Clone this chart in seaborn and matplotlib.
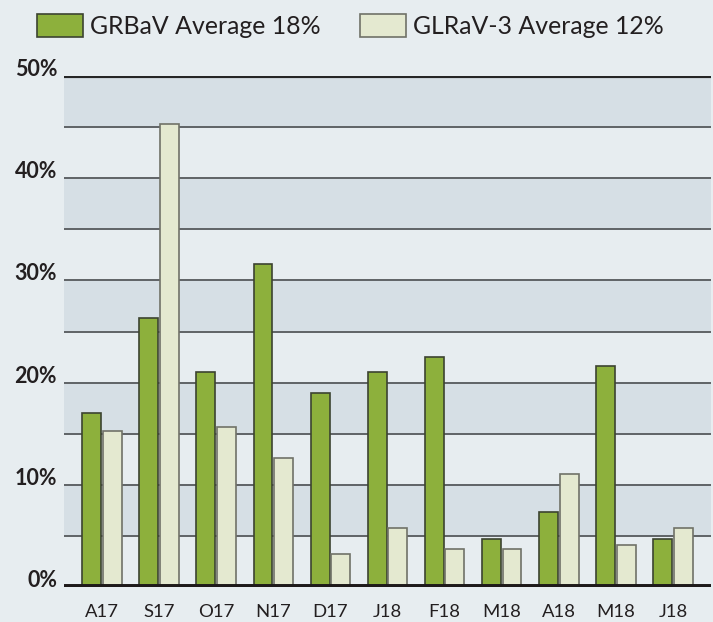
import matplotlib
matplotlib.use("Agg")
import matplotlib.pyplot as plt
from matplotlib.patches import Patch
import seaborn as sns
import pandas as pd

months = ["A17", "S17", "O17", "N17", "D17", "J18", "F18", "M18", "A18", "M18", "J18"]
grbav = [17.0, 26.3, 21.0, 31.6, 19.0, 21.0, 22.5, 4.7, 7.3, 21.6, 4.7]
glrav3 = [15.3, 45.3, 15.7, 12.6, 3.2, 5.8, 3.7, 3.7, 11.1, 4.1, 5.8]
series_names = ["GRBaV Average 18%", "GLRaV-3 Average 12%"]
y_ticks = [0, 10, 20, 30, 40, 50]

pos = list(range(len(months)))
df = pd.DataFrame({
    "pos": pos * 2,
    "value": grbav + glrav3,
    "series": [series_names[0]] * len(months) + [series_names[1]] * len(months),
})

bg = "#e7edf0"
band = "#d6dfe5"
green = "#8db03c"
cream = "#e4e9d0"
edges = ["#3c4330", "#707268"]

sns.set_theme(style="white")
plt.rcParams["font.family"] = ["Lato", "DejaVu Sans"]

fig = plt.figure(figsize=(7.13, 6.22), dpi=100, facecolor=bg)
ax = fig.add_axes([64 / 713, 1 - 587 / 622, (711 - 64) / 713, (587 - 76) / 622])
ax.set_facecolor(bg)

for lo in range(5, 50, 10):
    ax.axhspan(lo, lo + 5, facecolor=band, edgecolor="none", zorder=0, lw=0)
for y in range(5, 50, 5):
    ax.axhline(y, color="#5f6366", lw=1.4, zorder=1)

sns.barplot(data=df, x="pos", y="value", hue="series", order=pos,
            hue_order=series_names, palette=[green, cream], width=0.72, gap=0.08,
            native_scale=True, legend=False, ax=ax, zorder=3, saturation=1)

for cont, ec in zip(ax.containers, edges):
    for p in cont:
        p.set_edgecolor(ec)
        p.set_linewidth(1.2)

ax.axhline(50, color="#262626", lw=3, zorder=4)
ax.axhline(0, color="#1e1a1a", lw=5, zorder=5)

ax.set_xlim(-0.665, len(months) - 1 + 0.665)
ax.set_ylim(0, 50)
ax.set_xticks(pos)
ax.set_xticklabels(months, fontsize=13.3, color="#231f20")
ax.set_yticks(y_ticks)
ax.set_yticklabels([f"{t}%" for t in y_ticks], fontsize=15.5, fontweight="bold", color="#231f20")
for lab in ax.get_yticklabels():
    lab.set_va("baseline")
ax.tick_params(axis="both", length=0)
ax.tick_params(axis="x", pad=12.3)
ax.tick_params(axis="y", pad=5)
for s in ax.spines.values():
    s.set_visible(False)
ax.set_xlabel("")
ax.set_ylabel("")

handles = [Patch(facecolor=green, edgecolor=edges[0], lw=1.2),
           Patch(facecolor=cream, edgecolor=edges[1], lw=1.2)]
fig.legend(handles, series_names, loc="upper left", bbox_to_anchor=(37 / 713, 1 - 14 / 622),
           ncol=2, frameon=False, fontsize=17.9, handlelength=1.85, handleheight=1.02,
           handletextpad=0.3, columnspacing=1.55, borderpad=0, borderaxespad=0,
           labelcolor="#231f20")

fig.savefig("out.png", dpi=100, facecolor=bg)
